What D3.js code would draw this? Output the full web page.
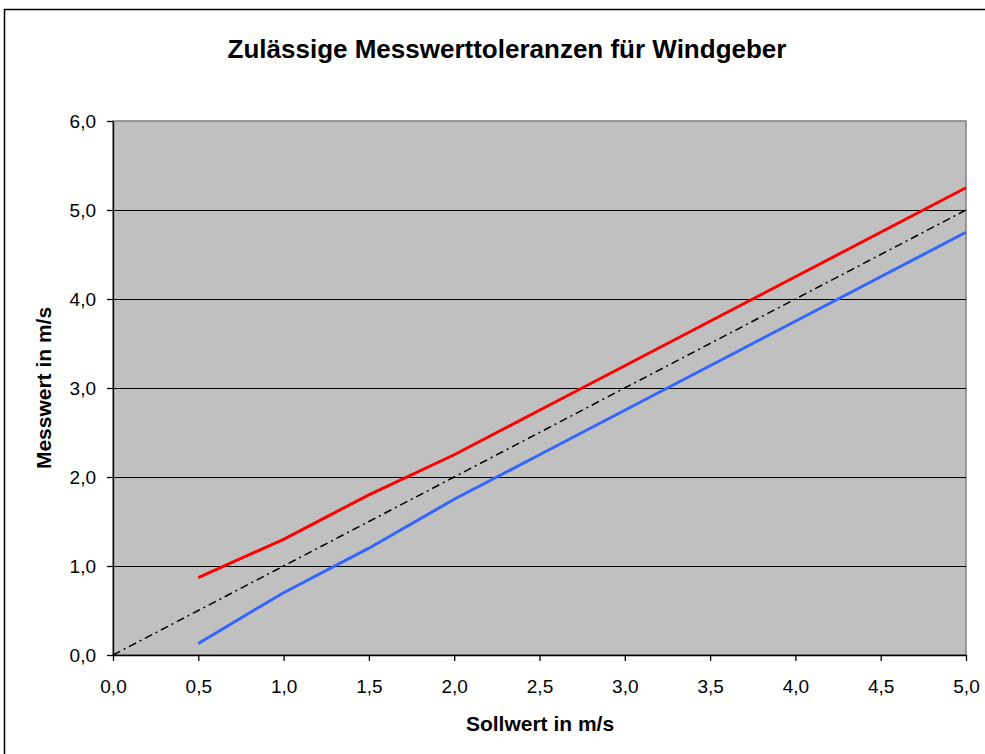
<!DOCTYPE html>
<html><head><meta charset="utf-8">
<script src="https://cdn.jsdelivr.net/npm/d3@7"></script>
<style>body{margin:0;background:#fff}svg{display:block}text{font-family:Arial,"Liberation Sans",sans-serif}</style>
</head><body><svg id="c" width="985" height="754"></svg>
<script>
const sollwerte = [0.5,1.0,1.5,2.0,2.5,3.0,3.5,4.0,4.5,5.0];
const obereGrenze = [0.87,1.3,1.8,2.25,2.75,3.25,3.75,4.25,4.75,5.25];
const untereGrenze = [0.13,0.7,1.2,1.75,2.25,2.75,3.25,3.75,4.25,4.75];
const idealX = [0,0.5,1.0,1.5,2.0,2.5,3.0,3.5,4.0,4.5,5.0];
const idealY = [0,0.5,1.0,1.5,2.0,2.5,3.0,3.5,4.0,4.5,5.0];
const xTicks = [0,0.5,1,1.5,2,2.5,3,3.5,4,4.5,5];
const yTicks = [0,1,2,3,4,5,6];

const svg = d3.select('#c');
const L=113, R=966, T=121, B=655;
const x = d3.scaleLinear().domain([0,5]).range([L,R]);
const y = d3.scaleLinear().domain([0,6]).range([B,T]);
const fmt = d => d.toFixed(1).replace('.',',');

svg.append('rect').attr('x',4.5).attr('y',9.5).attr('width',1000).attr('height',800)
  .attr('fill','#fff').attr('stroke','#000').attr('stroke-width',1.5);

svg.append('rect').attr('x',L).attr('y',T).attr('width',R-L).attr('height',B-T)
  .attr('fill','#c0c0c0').attr('stroke','#808080').attr('stroke-width',1.5);

svg.append('g').selectAll('line').data(yTicks.filter(d=>d>0 && d<6)).join('line')
  .attr('x1',L).attr('x2',R).attr('y1',d=>Math.round(y(d))+0.5).attr('y2',d=>Math.round(y(d))+0.5)
  .attr('stroke','#000').attr('stroke-width',1);

const xa = svg.append('g').attr('transform',`translate(0,${B})`)
  .call(d3.axisBottom(x).tickValues(xTicks).tickFormat(fmt).tickSize(6).tickSizeOuter(0));
const ya = svg.append('g').attr('transform',`translate(${L},0)`)
  .call(d3.axisLeft(y).tickValues(yTicks).tickFormat(fmt).tickSize(6).tickSizeOuter(0));
[xa,ya].forEach(a=>{a.selectAll('path,line').attr('stroke','#000').attr('stroke-width',1.3);
  a.selectAll('text').attr('font-size',19).attr('fill','#000').style('font-family','Arial,"Liberation Sans",sans-serif');});
xa.selectAll('text').attr('y',38).attr('dy',null);
ya.selectAll('text').attr('x',-17).attr('dy','0.36em');

const line = d3.line().x(d=>x(d[0])).y(d=>y(d[1]));
svg.append('path').datum(idealX.map((v,i)=>[v,idealY[i]])).attr('d',line)
  .attr('fill','none').attr('stroke','#000').attr('stroke-width',1.5).attr('stroke-dasharray','8,4,2,4');
svg.append('path').datum(sollwerte.map((v,i)=>[v,untereGrenze[i]])).attr('d',line)
  .attr('fill','none').attr('stroke','#3366ff').attr('stroke-width',3);
svg.append('path').datum(sollwerte.map((v,i)=>[v,obereGrenze[i]])).attr('d',line)
  .attr('fill','none').attr('stroke','#ff0000').attr('stroke-width',3);

svg.append('text').attr('x',507).attr('y',58).attr('text-anchor','middle')
  .attr('font-size',26).attr('font-weight','bold').text('Zulässige Messwerttoleranzen für Windgeber');
svg.append('text').attr('x',540).attr('y',731).attr('text-anchor','middle')
  .attr('font-size',21).attr('font-weight','bold').text('Sollwert in m/s');
svg.append('text').attr('transform',`translate(51,${(T+B)/2}) rotate(-90)`).attr('text-anchor','middle')
  .attr('font-size',21).attr('font-weight','bold').text('Messwert in m/s');
</script></body></html>
